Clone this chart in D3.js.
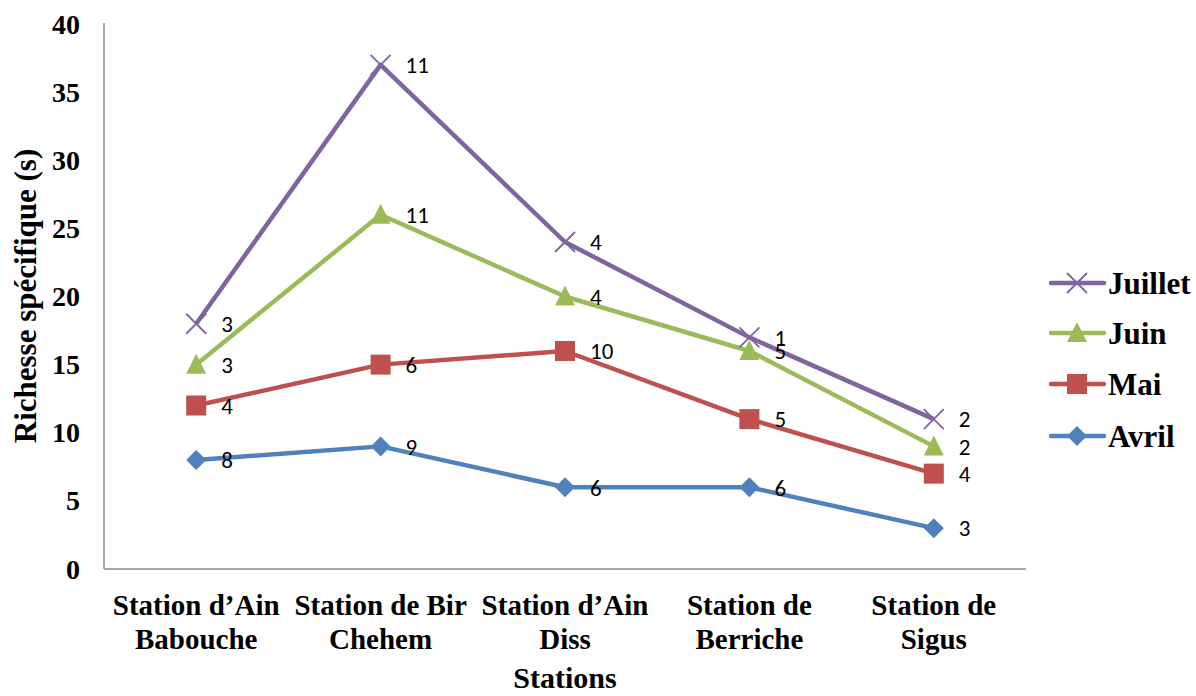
<!DOCTYPE html>
<html><head><meta charset="utf-8">
<script src="https://cdn.jsdelivr.net/npm/d3@7"></script>
<style>body{margin:0;background:#fff}</style>
</head><body>
<svg id="c" width="1196" height="696"></svg>
<script>
const categories = [["Station d\u2019Ain","Babouche"],["Station de Bir","Chehem"],["Station d\u2019Ain","Diss"],["Station de","Berriche"],["Station de","Sigus"]];
const seriesNames = ["Avril","Mai","Juin","Juillet"];
const avril = [8,9,6,6,3];
const mai = [4,6,10,5,4];
const juin = [3,11,4,5,2];
const juillet = [3,11,4,1,2];
const yTicks = [0,5,10,15,20,25,30,35,40];
const colors = {Avril:"#4F81BD",Mai:"#C0504D",Juin:"#9BBB59",Juillet:"#8064A2"};

const rows = categories.map((c,i)=>({idx:i,Avril:avril[i],Mai:mai[i],Juin:juin[i],Juillet:juillet[i]}));
const stacked = d3.stack().keys(seriesNames)(rows);

const svg = d3.select("#c");
const pL=104, pR=1026, pT=24, pB=569;
const x = d3.scaleBand().domain(d3.range(categories.length)).range([pL,pR]);
const y = d3.scaleLinear().domain([0,40]).range([pB,pT]);
const cx = i => x(i)+x.bandwidth()/2;
const serif = "'Liberation Serif','Times New Roman',serif";

// axes
svg.append("line").attr("x1",pL).attr("x2",pL).attr("y1",pT-1).attr("y2",pB).attr("stroke","#8c8c8c").attr("stroke-width",1.5);
svg.append("line").attr("x1",pL).attr("x2",pR).attr("y1",pB).attr("y2",pB).attr("stroke","#8c8c8c").attr("stroke-width",1.5);

svg.selectAll(".yt").data(yTicks).enter().append("text")
  .attr("x",80).attr("y",d=>y(d)).attr("dy","0.34em").attr("text-anchor","end")
  .attr("font-family",serif).attr("font-weight","bold").attr("font-size",28).text(d=>d);

svg.append("text").attr("transform","translate(36,296) rotate(-90)").attr("text-anchor","middle")
  .attr("font-family",serif).attr("font-weight","bold").attr("font-size",31).text("Richesse sp\u00e9cifique (s)");

const xl = svg.selectAll(".xl").data(categories).enter().append("text")
  .attr("text-anchor","middle").attr("font-family",serif).attr("font-weight","bold").attr("font-size",29);
xl.each(function(d,i){
  const t=d3.select(this);
  d.forEach((ln,j)=>t.append("tspan").attr("x",cx(i)).attr("y",615+j*34).text(ln));
});
svg.append("text").attr("x",565).attr("y",688).attr("text-anchor","middle")
  .attr("font-family",serif).attr("font-weight","bold").attr("font-size",30).text("Stations");

function marker(g,name,px,py){
  const c=colors[name];
  if(name==="Avril"){
    g.append("path").attr("d",`M${px},${py-10}L${px+10},${py}L${px},${py+10}L${px-10},${py}Z`).attr("fill",c);
  } else if(name==="Mai"){
    g.append("rect").attr("x",px-10).attr("y",py-10).attr("width",20).attr("height",20).attr("fill",c);
  } else if(name==="Juin"){
    g.append("path").attr("d",`M${px},${py-11}L${px+10},${py+9}L${px-10},${py+9}Z`).attr("fill",c);
  } else {
    g.append("path").attr("d",`M${px-10},${py-10}L${px+10},${py+10}M${px+10},${py-10}L${px-10},${py+10}`).attr("stroke",c).attr("stroke-width",1.8).attr("fill","none");
  }
}

const line = d3.line().x((d,i)=>cx(i)).y(d=>y(d[1]));
const order = [0,1,2,3];
order.forEach(k=>{
  const s=stacked[k]; const name=s.key;
  svg.append("path").datum(s).attr("d",line).attr("fill","none").attr("stroke",colors[name]).attr("stroke-width",4.5).attr("stroke-linejoin","round");
});
order.forEach(k=>{
  const s=stacked[k]; const name=s.key;
  const g=svg.append("g");
  s.forEach((d,i)=>marker(g,name,cx(i),y(d[1])));
});
order.forEach(k=>{
  const s=stacked[k];
  svg.selectAll(null).data(s).enter().append("text")
    .attr("x",(d,i)=>cx(i)+25).attr("y",d=>y(d[1])).attr("dy","0.36em")
    .attr("font-family","Carlito,'Open Sans','Liberation Sans',sans-serif").attr("font-size",23).attr("fill","#000")
    .text(d=>d[1]-d[0]);
});

// legend
const legOrder = ["Juillet","Juin","Mai","Avril"];
const legY = [283,333,384,436];
legOrder.forEach((n,i)=>{
  const g=svg.append("g");
  g.append("line").attr("x1",1051).attr("x2",1104).attr("y1",legY[i]).attr("y2",legY[i]).attr("stroke",colors[n]).attr("stroke-width",4.5).attr("stroke-linecap","round");
  marker(g,n,1077,legY[i]);
  g.append("text").attr("x",1108).attr("y",legY[i]).attr("dy","0.34em").attr("font-family",serif).attr("font-weight","bold").attr("font-size",31).text(n);
});
</script>
</body></html>
